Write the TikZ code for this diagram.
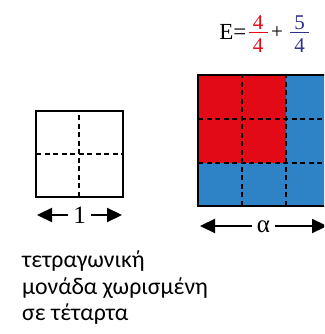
\documentclass[tikz,border=0pt]{standalone}
\usepackage{fontspec}
\setmainfont{Carlito}
\newfontfamily\serifgr{Liberation Serif}
\usetikzlibrary{arrows.meta}
\definecolor{cred}{RGB}{227,10,23}
\definecolor{cblue}{RGB}{46,131,198}
\definecolor{cindigo}{RGB}{46,49,146}
\tikzset{
  frame/.style={line width=2pt},
  grid dashed/.style={line width=1.7pt, dash pattern=on 5pt off 3.5pt},
  dimarrow/.style={line width=2.2pt, {Triangle[length=15pt,width=14pt]}-{Triangle[length=15pt,width=14pt]}},
  dimlabel/.style={fill=white, inner sep=0pt, minimum width=23pt, font=\fontsize{25}{27}\selectfont\serifgr},
  eqtxt/.style={inner sep=0pt, font=\fontsize{21}{24}\selectfont\serifgr},
  eqbig/.style={inner sep=0pt, font=\fontsize{23}{26}\selectfont\serifgr},
  fracbar/.style={line width=1.3pt},
  greek/.style={anchor=base west, inner sep=0pt, font=\fontsize{23.8}{27}\selectfont}
}
\begin{document}
\begin{tikzpicture}[x=1pt,y=1pt]
\useasboundingbox (0,0) rectangle (324,334);
\clip (0,0) rectangle (324,334);
% equation
\node[eqbig, anchor=base east] (E) at (246.5,294) {E=};
\node[eqtxt, text=cred, anchor=south] (n1) at (258,304.5) {4};
\node[eqtxt, text=cred, anchor=north] (d1) at (258,295.5) {4};
\coordinate (b1l) at (248.5,301.7);
\coordinate (b1r) at (267.5,301.7);
\draw[fracbar, cred] (b1l) -- (b1r);
\node[eqtxt] (plus) at (277,301.7) {+};
\node[eqtxt, text=cindigo, anchor=south] (n2) at (299.5,304.5) {5};
\node[eqtxt, text=cindigo, anchor=north] (d2) at (299.5,295.5) {4};
\coordinate (b2l) at (290,301.7);
\coordinate (b2r) at (309,301.7);
\draw[fracbar, cindigo] (b2l) -- (b2r);
% small square
\coordinate (sA) at (36,137);
\coordinate (sB) at (122.7,223);
\draw[grid dashed] (79.3,137) -- (79.3,223);
\draw[grid dashed] (36,180) -- (122.7,180);
\draw[frame] (sA) rectangle (sB);
% big square
\fill[cblue] (198,128) rectangle (330,259);
\fill[cred] (198,171) rectangle (286,259);
\draw[grid dashed] (242,128) -- (242,259);
\draw[grid dashed] (286,128) -- (286,259);
\draw[grid dashed] (198,215) -- (330,215);
\draw[grid dashed] (198,171) -- (330,171);
\draw[frame] (198,128) rectangle (330,259);
% dimension arrows
\coordinate (a1) at (37,119);
\coordinate (b1) at (122,119);
\draw[dimarrow] (a1) -- node[dimlabel] (one) {1} (b1);
\coordinate (a2) at (200,108);
\coordinate (b2) at (327,108);
\draw[dimarrow] (a2) -- node[dimlabel, yshift=-1pt] (alpha) {α} (b2);
% greek text
\node[greek] (t1) at (22,66) {τετραγωνική};
\node[greek] (t2) at (22,39.5) {μονάδα χωρισμένη};
\node[greek] (t3) at (22,13) {σε τέταρτα};
\end{tikzpicture}
\end{document}
